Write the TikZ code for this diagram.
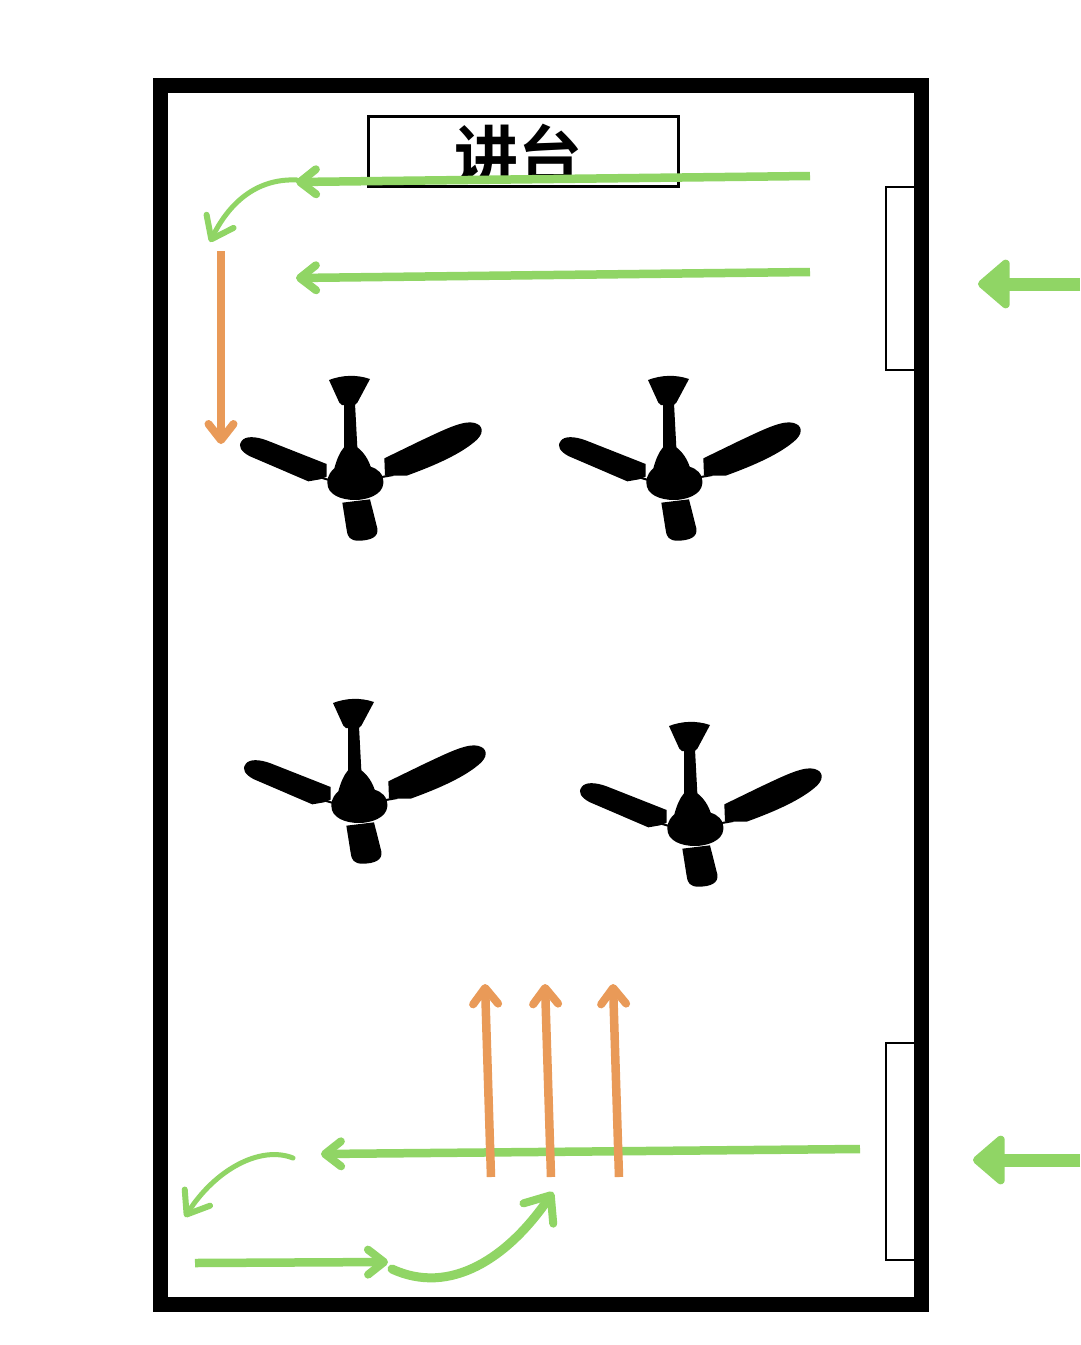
\documentclass[tikz,border=0pt]{standalone}
\usepackage{fontspec}
\newfontfamily\cjkbold[BoldFont=Noto Sans CJK SC Bold]{Noto Sans CJK SC}
\usepackage{tikz}
\usetikzlibrary{arrows.meta}
\definecolor{grn}{HTML}{90D565}
\definecolor{org}{HTML}{E99A58}
\tikzset{wall/.style={draw,line width=15pt,miter limit=10},win/.style={draw,line width=2.5pt,fill=white,minimum width=42pt,inner sep=0pt},
podium/.style={draw,line width=3pt,minimum width=310pt,minimum height=70pt,inner sep=0pt},
word/.style={font=\cjkbold\bfseries\fontsize{64pt}{64pt}\selectfont,inner sep=0pt},
grnedge/.style={draw=grn,line width=8.5pt,-{Straight Barb[length=16pt,width=25pt,line width=8pt,round]}},
thinedge/.style={draw=grn,line width=5pt,line cap=round,-{Straight Barb[length=20pt,width=30pt,line width=6pt,round]}},
fatedge/.style={draw=grn,line width=9pt,line cap=round,-{Straight Barb[length=22pt,width=36pt,line width=8pt,round]}},
orgedge/.style={draw=org,line width=8.5pt,-{Straight Barb[length=16pt,width=25pt,line width=8pt,round]}},
bigedge/.style={draw=grn,line width=13pt,-{Triangle[length=34pt,width=56pt,line width=8pt,round]}}}
\tikzset{fan/.pic={
  \begin{scope}[x=.3333pt,y=-.3333pt,shift={(-405,-360)},fill=black]
  % canopy
  \fill (327,60) .. controls (365,45) and (410,43) .. (450,57) -- (412,128) -- (404,135) -- (366,135) -- (358,128) -- cycle;
  % rod and motor
  \fill (372,130) -- (405,130) -- (412,262) .. controls (430,275) and (445,298) .. (452,320) .. controls (470,325) and (492,340) .. (490,370) .. controls (488,405) and (440,420) .. (405,420) .. controls (365,420) and (322,405) .. (322,368) .. controls (322,345) and (335,332) .. (343,325) .. controls (350,300) and (358,278) .. (372,262) -- cycle;
  % blades
  \fill (320,312) -- (320,350) -- (300,358) -- (265,364) -- (88,288) .. controls (65,275) and (52,260) .. (65,243) .. controls (75,228) and (105,228) .. (140,241) -- cycle;
  \fill (493,295) -- (495,347) -- (560,347) .. controls (640,318) and (725,282) .. (772,238) .. controls (797,212) and (785,188) .. (750,187) .. controls (715,187) and (660,215) .. (600,243) -- cycle;
  \fill (367,428) -- (450,418) -- (472,505) .. controls (477,532) and (450,542) .. (415,542) .. controls (390,542) and (382,530) .. (380,510) -- cycle;
  \draw[line width=2pt] (300,352) -- (345,365) (480,352) -- (520,345);
  \end{scope}
}}
\begin{document}
\begin{tikzpicture}[x=1pt,y=-1pt]
  \useasboundingbox[fill=white] (0,0) rectangle (1080,1345);
  \node[win] (w1) at (907,278.5) [minimum height=183pt] {};
  \node[win] (w2) at (907,1151.5) [minimum height=217pt] {};
  \draw[wall] (160.5,85.5) rectangle (921,1304);
  \node[podium] (pod) at (523.5,151) {};
  \begin{scope}
    \clip (440,110) rectangle (600,181);
    \node[word] (txt) at (518,155) {讲台};
  \end{scope}
  \pic at (355,480) {fan};
  \pic at (674,480) {fan};
  \pic at (359,803) {fan};
  \pic at (695,826) {fan};
  \coordinate (a1) at (810,176);
  \coordinate (a2) at (296,182);
  \coordinate (b1) at (810,272);
  \coordinate (b2) at (296,278);
  \coordinate (c1) at (297,180);
  \coordinate (c2) at (210,242);
  \coordinate (d1) at (221,251);
  \coordinate (d2) at (221,444);
  \coordinate (e1) at (860,1149);
  \coordinate (e2) at (321,1154);
  \coordinate (f1) at (293,1158);
  \coordinate (f2) at (185,1217);
  \coordinate (g1) at (195,1263);
  \coordinate (g2) at (388,1262);
  \coordinate (h1) at (392,1269);
  \coordinate (h2) at (553,1192);
  \coordinate (k1) at (1080,284);
  \coordinate (k2) at (978,284);
  \coordinate (m1) at (1080,1160);
  \coordinate (m2) at (973,1160);
  \draw[grnedge] (a1) -- (a2);
  \draw[grnedge] (b1) -- (b2);
  \draw[thinedge] (c1) .. controls (255,178) and (228,205) .. (c2);
  \draw[orgedge] (d1) -- (d2);
  \draw[grnedge] (e1) -- (e2);
  \draw[thinedge] (f1) .. controls (260,1145) and (215,1170) .. (f2);
  \draw[grnedge] (g1) -- (g2);
  \draw[fatedge] (h1) .. controls (450,1296) and (508,1258) .. (h2);
  \draw[bigedge] (k1) -- (k2);
  \draw[bigedge] (m1) -- (m2);
  \foreach \x/\n in {491/p,551/q,619/r}{
    \coordinate (\n1) at (\x,1177);
    \coordinate (\n2) at (\x-6,984);
    \draw[orgedge] (\n1) -- (\n2);
  }
\end{tikzpicture}
\end{document}
